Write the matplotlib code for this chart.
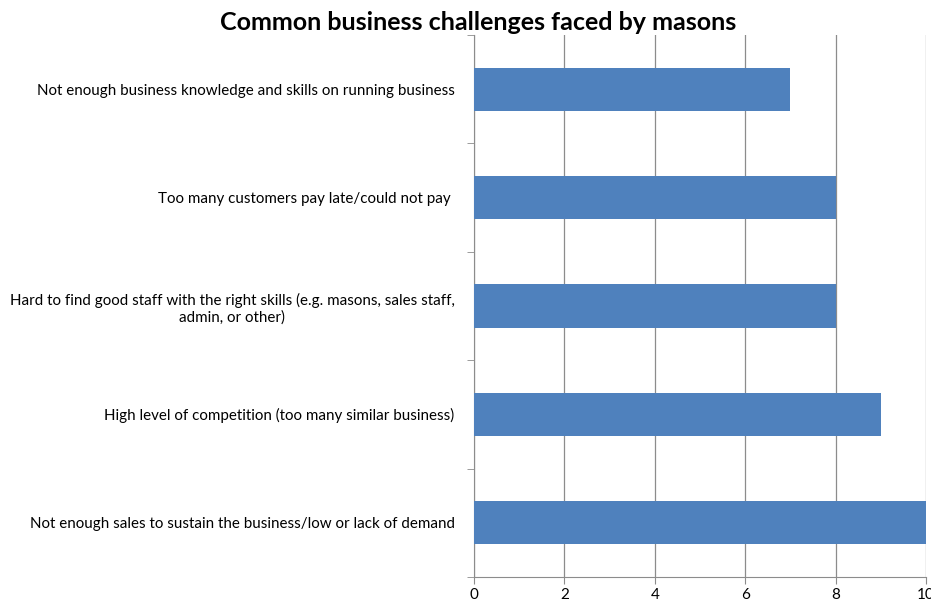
import matplotlib.pyplot as plt
import numpy as np

# Challenges (bottom to top) and number of masons reporting each
challenges = [
    'Not enough sales to sustain the business/low or lack of demand',
    'High level of competition (too many similar business)',
    'Hard to find good staff with the right skills (e.g. masons, sales staff,\nadmin, or other)',
    'Too many customers pay late/could not pay ',
    'Not enough business knowledge and skills on running business',
]
counts = [10, 9, 8, 8, 7]
xticks = [0, 2, 4, 6, 8, 10]

plt.rcParams['font.family'] = ['Lato', 'DejaVu Sans']

fig = plt.figure(figsize=(9.31, 6.03), dpi=100)
ax = fig.add_axes([474 / 931, 26 / 603, 452 / 931, 542 / 603])

pos = np.arange(len(challenges))
ax.barh(pos, counts, height=0.4, color='#4F81BD', zorder=3)

ax.set_xlim(0, 10)
ax.set_ylim(-0.5, len(challenges) - 0.5)
ax.set_xticks(xticks)
ax.set_xticklabels([str(t) for t in xticks], fontsize=11)
ax.xaxis.grid(True, color='#8c8c8c', linewidth=0.9, zorder=0)

# labels at the bar centres, tick marks between categories
ax.set_yticks(pos)
ax.set_yticklabels(challenges, fontsize=10.9, multialignment='center')
ax.tick_params(axis='y', length=0, pad=14)
ax.set_yticks(np.arange(-0.5, len(challenges)), minor=True)
ax.tick_params(axis='y', which='minor', length=5, color='#8c8c8c')
ax.tick_params(axis='x', length=5, color='#8c8c8c', pad=3)

for side in ['top', 'right']:
    ax.spines[side].set_visible(False)
for side in ['left', 'bottom']:
    ax.spines[side].set_color('#8c8c8c')

fig.text(478 / 931, 0.962, 'Common business challenges faced by masons',
         ha='center', va='center', fontsize=18, fontweight='bold')

plt.savefig('out.png', dpi=100)
